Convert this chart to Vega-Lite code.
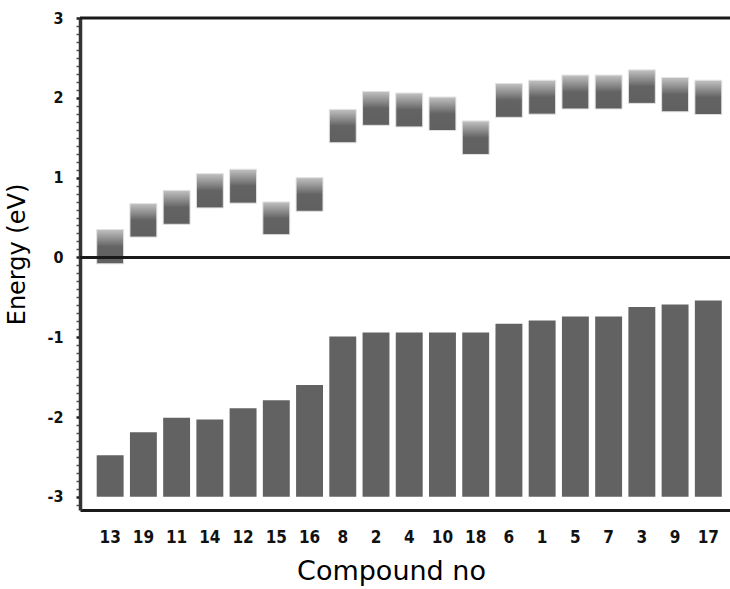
{
  "$schema": "https://vega.github.io/schema/vega-lite/v6.json",
  "autosize": "none",
  "width": 650,
  "height": 492,
  "padding": {"left": 80, "top": 18, "right": 0, "bottom": 79},
  "background": "white",
  "config": {"view": {"stroke": null}},
  "datasets": {
    "compounds": [
      {"compound": "13", "homo": -2.48, "lumo_low": -0.08, "lumo_high": 0.35},
      {"compound": "19", "homo": -2.19, "lumo_low": 0.255, "lumo_high": 0.675},
      {"compound": "11", "homo": -2.01, "lumo_low": 0.415, "lumo_high": 0.84},
      {"compound": "14", "homo": -2.03, "lumo_low": 0.62, "lumo_high": 1.05},
      {"compound": "12", "homo": -1.89, "lumo_low": 0.68, "lumo_high": 1.105},
      {"compound": "15", "homo": -1.79, "lumo_low": 0.285, "lumo_high": 0.695},
      {"compound": "16", "homo": -1.6, "lumo_low": 0.578, "lumo_high": 1.0},
      {"compound": "8", "homo": -0.99, "lumo_low": 1.437, "lumo_high": 1.855},
      {"compound": "2", "homo": -0.94, "lumo_low": 1.655, "lumo_high": 2.08},
      {"compound": "4", "homo": -0.94, "lumo_low": 1.635, "lumo_high": 2.06},
      {"compound": "10", "homo": -0.94, "lumo_low": 1.59, "lumo_high": 2.01},
      {"compound": "18", "homo": -0.94, "lumo_low": 1.29, "lumo_high": 1.71},
      {"compound": "6", "homo": -0.83, "lumo_low": 1.755, "lumo_high": 2.18},
      {"compound": "1", "homo": -0.79, "lumo_low": 1.795, "lumo_high": 2.22},
      {"compound": "5", "homo": -0.74, "lumo_low": 1.86, "lumo_high": 2.285},
      {"compound": "7", "homo": -0.74, "lumo_low": 1.86, "lumo_high": 2.285},
      {"compound": "3", "homo": -0.62, "lumo_low": 1.93, "lumo_high": 2.35},
      {"compound": "9", "homo": -0.59, "lumo_low": 1.825, "lumo_high": 2.255},
      {"compound": "17", "homo": -0.54, "lumo_low": 1.79, "lumo_high": 2.22}
    ],
    "lines": [{"level": 3}, {"level": 0}]
  },
  "layer": [
    {
      "data": {"name": "compounds"},
      "mark": {"type": "bar", "color": "#626262"},
      "encoding": {
        "x": {
          "field": "compound", "type": "ordinal", "sort": null,
          "scale": {"paddingInner": 0.19, "paddingOuter": 0.375, "align": 0.67, "round": false},
          "axis": {
            "title": "Compound no",
            "labelAngle": 0,
            "ticks": false,
            "domain": true, "domainColor": "#1a1a1a", "domainWidth": 3,
            "labelFont": "Liberation Sans Narrow, DejaVu Sans Condensed, sans-serif",
            "labelFontWeight": "bold", "labelFontSize": 17, "labelColor": "#111",
            "labelPadding": 19,
            "titleFont": "DejaVu Sans", "titleFontWeight": "normal", "titleFontSize": 27,
            "titleColor": "#000", "titlePadding": 13, "titleX": 311
          }
        },
        "y": {
          "field": "homo", "type": "quantitative",
          "scale": {"domain": [-3.165, 3], "nice": false, "zero": false},
          "axis": {
            "title": "Energy (eV)",
            "grid": false,
            "tickCount": 200,
            "values": [-3.1, -3, -2.9, -2.8, -2.7, -2.6, -2.5, -2.4, -2.3, -2.2, -2.1, -2, -1.9, -1.8, -1.7, -1.6, -1.5, -1.4, -1.3, -1.2, -1.1, -1, -0.9, -0.8, -0.7, -0.6, -0.5, -0.4, -0.3, -0.2, -0.1, 0, 0.1, 0.2, 0.3, 0.4, 0.5, 0.6, 0.7, 0.8, 0.9, 1, 1.1, 1.2, 1.3, 1.4, 1.5, 1.6, 1.7, 1.8, 1.9, 2, 2.1, 2.2, 2.3, 2.4, 2.5, 2.6, 2.7, 2.8, 2.9, 3],
            "labelExpr": "datum.value % 1 === 0 ? '' + datum.value : ''",
            "labelOverlap": false, "labelFlush": false,
            "domain": true, "domainColor": "#333", "domainWidth": 3.5,
            "tickSize": 4,
            "tickWidth": {"condition": {"test": "datum.value % 1 === 0", "value": 2.5}, "value": 1.5},
            "tickColor": {"condition": {"test": "datum.value % 1 === 0", "value": "#222"}, "value": "#555"},
            "labelPadding": 13,
            "labelFont": "Liberation Sans Narrow, DejaVu Sans Condensed, sans-serif",
            "labelFontWeight": "bold", "labelFontSize": 16, "labelColor": "#111",
            "titleFont": "DejaVu Sans", "titleFontWeight": "normal", "titleFontSize": 24,
            "titleColor": "#000", "titlePadding": 18, "titleY": 236
          }
        },
        "y2": {"datum": -3}
      }
    },
    {
      "data": {"name": "compounds"},
      "mark": {
        "type": "bar",
        "stroke": "#e2e2e2", "strokeWidth": 1,
        "color": {
          "gradient": "linear", "x1": 0, "y1": 0, "x2": 0, "y2": 1,
          "stops": [
            {"offset": 0, "color": "#c2c2c2"},
            {"offset": 0.18, "color": "#a0a0a0"},
            {"offset": 0.35, "color": "#808080"},
            {"offset": 0.5, "color": "#636363"},
            {"offset": 1, "color": "#606060"}
          ]
        }
      },
      "encoding": {
        "x": {"field": "compound", "type": "ordinal", "sort": null},
        "y": {"field": "lumo_high", "type": "quantitative"},
        "y2": {"field": "lumo_low"}
      }
    },
    {
      "data": {"name": "lines"},
      "mark": {"type": "rule", "color": "#1a1a1a", "strokeWidth": 3},
      "encoding": {
        "y": {"field": "level", "type": "quantitative"}
      }
    }
  ]
}
